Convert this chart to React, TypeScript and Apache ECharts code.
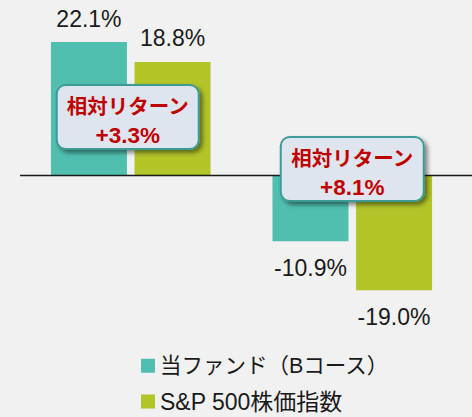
import React, { useEffect, useRef } from "react";
import * as echarts from "echarts";

const categories = ["期間1", "期間2"];
const seriesNames = ["当ファンド（Bコース）", "S&P 500株価指数"];
const fundValues = [22.1, -10.9];
const spValues = [18.8, -19.0];
const relativeLabels = ["相対リターン\n+3.3%", "相対リターン\n+8.1%"];

const TEAL = "#50bfb0";
const OLIVE = "#b2c428";
const BG = "#f1f1f1";
const LABEL_FONT = "'Liberation Sans', Arial, 'Noto Sans CJK JP', sans-serif";

function makeBox(cx: number, top: number, w: number, h: number, text: string) {
  const [l1, l2] = text.split("\n");
  return {
    type: "group",
    children: [
      {
        type: "rect",
        shape: { x: cx - w / 2, y: top, width: w, height: h, r: 9 },
        style: {
          fill: "#dfe5ee",
          stroke: "#3d9b96",
          lineWidth: 2,
          shadowBlur: 4,
          shadowOffsetX: 3,
          shadowOffsetY: 3,
          shadowColor: "rgba(0,0,0,0.45)",
        },
        z: 10,
      },
      {
        type: "text",
        x: cx,
        y: top + 20,
        style: {
          text: l1,
          align: "center",
          verticalAlign: "middle",
          font: "bold 20.5px 'Noto Sans CJK JP', sans-serif",
          fill: "#c00000",
        },
        z: 11,
      },
      {
        type: "text",
        x: cx,
        y: top + 50,
        style: {
          text: l2,
          align: "center",
          verticalAlign: "middle",
          font: "bold 22.5px 'Liberation Sans', Arial, sans-serif",
          fill: "#c00000",
        },
        z: 11,
      },
    ],
  };
}

function toData(values: number[]) {
  return values.map((v) => ({
    value: v,
    label: { distance: v < 0 ? 15 : 12 },
  }));
}

export default function App() {
  const ref = useRef<HTMLDivElement>(null);
  useEffect(() => {
    if (!ref.current) return;
    const chart = echarts.init(ref.current, undefined, { renderer: "svg" });
    const label = {
      show: true,
      position: "outside",
      fontSize: 23,
      fontFamily: LABEL_FONT,
      color: "#1a1a1a",
      formatter: (p: any) => `${Number(p.value).toFixed(1)}%`,
    };
    const legendBase = {
      orient: "vertical",
      left: 141,
      padding: 0,
      itemWidth: 14,
      itemHeight: 14,
      icon: "rect",
    };
    const legendText = (size: number) => ({
      fontSize: size,
      color: "#1a1a1a",
      fontFamily: "'Liberation Sans', Arial, 'Noto Sans CJK JP', sans-serif",
    });
    chart.setOption({
      animation: false,
      backgroundColor: BG,
      grid: { left: 20, right: 9, top: 24.5, height: 302 },
      xAxis: {
        type: "category",
        data: categories,
        axisLine: { show: false },
        axisTick: { show: false },
        axisLabel: { show: false },
      },
      yAxis: {
        type: "value",
        min: -25,
        max: 25,
        show: false,
        splitLine: { show: false },
      },
      legend: [
        { ...legendBase, top: 355, textStyle: legendText(21.5), data: [seriesNames[0]] },
        { ...legendBase, top: 390, textStyle: legendText(23), data: [seriesNames[1]] },
      ],
      series: [
        {
          name: seriesNames[0],
          type: "bar",
          data: toData(fundValues),
          barWidth: 76,
          barGap: "10%",
          itemStyle: { color: TEAL },
          label,
        },
        {
          name: seriesNames[1],
          type: "bar",
          data: toData(spValues),
          barWidth: 76,
          barGap: "10%",
          itemStyle: { color: OLIVE },
          label,
        },
      ],
    });
    const y0 = chart.convertToPixel({ yAxisIndex: 0 }, 0) as number;
    const cx0 = chart.convertToPixel({ xAxisIndex: 0 }, categories[0]) as number;
    const cx1 = chart.convertToPixel({ xAxisIndex: 0 }, categories[1]) as number;
    chart.setOption({
      graphic: [
        {
          type: "line",
          shape: { x1: 20, y1: y0, x2: 472, y2: y0 },
          style: { stroke: "#1a1a1a", lineWidth: 1.5 },
          z: 5,
        },
        makeBox(cx0 - 3, 85, 142, 64, relativeLabels[0]),
        makeBox(cx1, 137, 143, 64, relativeLabels[1]),
      ],
    });
    return () => chart.dispose();
  }, []);
  return (
    <div
      ref={ref}
      style={{ position: "fixed", left: 0, top: 0, width: 472, height: 417, background: BG }}
    />
  );
}
